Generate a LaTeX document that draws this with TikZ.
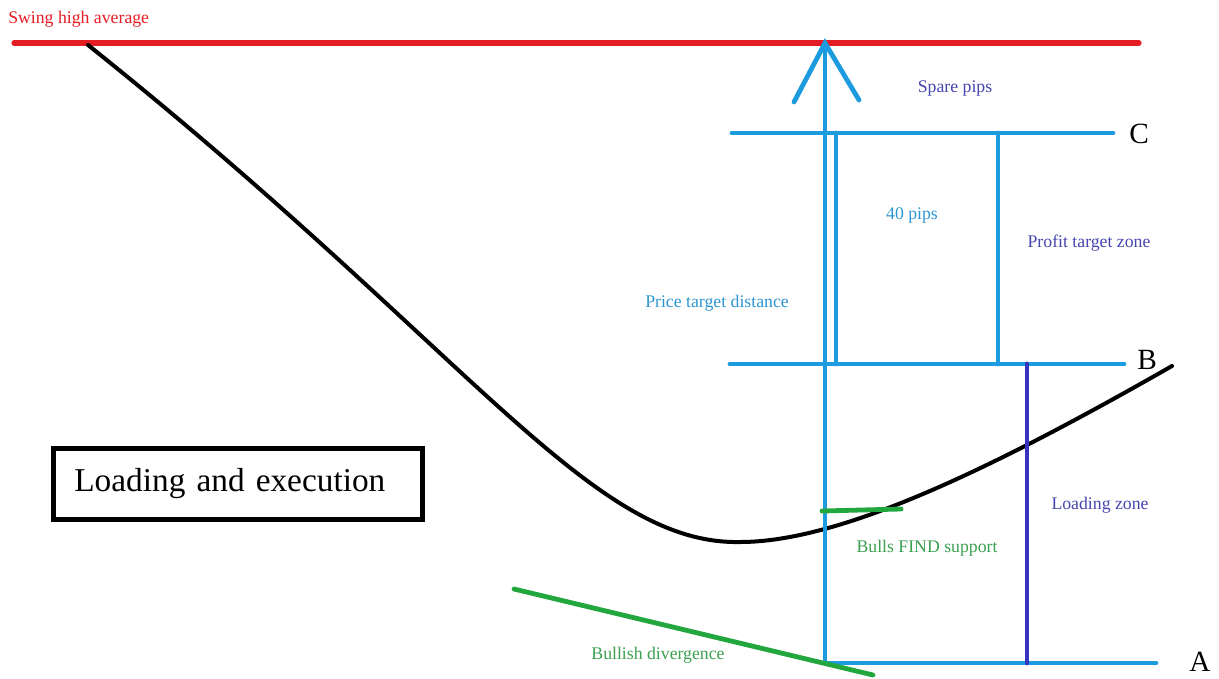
\documentclass[tikz,border=0pt]{standalone}
\usepackage{fontspec}
\setmainfont{Liberation Serif}
\definecolor{redl}{RGB}{228,28,36}
\definecolor{bluel}{RGB}{28,156,222}
\definecolor{blued}{RGB}{52,52,190}
\definecolor{greenl}{RGB}{34,166,62}
\definecolor{bluetxt}{RGB}{70,70,175}
\definecolor{lbluetxt}{RGB}{45,150,210}
\definecolor{greentxt}{RGB}{60,160,80}
\tikzset{
  redline/.style={draw=redl,line width=3.8pt,line cap=round},
  blueline/.style={draw=bluel,line width=3.6pt,line cap=round},
  dblueline/.style={draw=blued,line width=3.6pt,line cap=round},
  greenline/.style={draw=greenl,line width=3.6pt,line cap=round},
  curveline/.style={draw=black,line width=3pt,line cap=round},
  lbl/.style={inner sep=0pt,font=\fontsize{13.3}{15}\selectfont},
  letter/.style={inner sep=0pt,font=\fontsize{22}{25}\selectfont},
  titlebox/.style={draw=black,line width=3.8pt,inner xsep=15.75pt,inner ysep=0pt,
      text width=245.5pt,align=left,minimum height=53pt,
      font=\fontsize{25}{28}\selectfont},
}
\begin{document}
\begin{tikzpicture}[x=0.75pt,y=-0.75pt]
\useasboundingbox (0,0) rectangle (1219,678);
\fill[white] (0,0) rectangle (1219,678);
% coordinates
\coordinate (rL) at (14,43);
\coordinate (rR) at (1139,43);
\coordinate (apex) at (825,43);
\coordinate (ahL) at (794,102);
\coordinate (ahR) at (859,100);
\coordinate (arBot) at (825,663);
\coordinate (cL) at (732,133);
\coordinate (cR) at (1113,133);
\coordinate (bL) at (730,364);
\coordinate (bR) at (1124,364);
\coordinate (aL) at (825,663);
\coordinate (aR) at (1156,663);
\coordinate (v2t) at (836,133);
\coordinate (v2b) at (836,364);
\coordinate (v3t) at (998,133);
\coordinate (v3b) at (998,364);
\coordinate (v4t) at (1027,364);
\coordinate (v4b) at (1027,663);
\coordinate (gsL) at (822,511);
\coordinate (gsR) at (901,509);
\coordinate (gdL) at (514,589);
\coordinate (gdR) at (873,675);
\coordinate (k0) at (88,45);
\coordinate (k1) at (740,542);
\coordinate (k2) at (1172,366);
% lines
\path[redline] (rL) -- (rR);
\path[curveline] (k0) .. controls (470,350) and (590,545) .. (k1) .. controls (840,542) and (990,470) .. (k2);
\path[blueline] (cL) -- (cR);
\path[blueline] (bL) -- (bR);
\path[blueline] (aL) -- (aR);
\path[blueline] (arBot) -- (apex);
\path[blueline] (ahL) -- (apex) -- (ahR);
\path[blueline] (v2t) -- (v2b);
\path[blueline] (v3t) -- (v3b);
\path[dblueline] (v4t) -- (v4b);
\path[greenline] (gsL) -- (gsR);
\path[greenline] (gdL) -- (gdR);
% box
\node[titlebox] (box) at (238,484) {Loading and execution};
% labels
\node[lbl,text=redl,anchor=west] (swing) at (8,19) {Swing high average};
\node[lbl,text=bluetxt] (spare) at (955,89) {Spare pips};
\node[lbl,text=lbluetxt] (forty) at (912,215) {40 pips};
\node[lbl,text=bluetxt] (profit) at (1089,243) {Profit target zone};
\node[lbl,text=lbluetxt] (price) at (717,303) {Price target distance};
\node[lbl,text=bluetxt] (loadz) at (1100,505) {Loading zone};
\node[lbl,text=greentxt] (bulls) at (927,548) {Bulls FIND support};
\node[lbl,text=greentxt] (bdiv) at (658,655) {Bullish divergence};
\node[letter,anchor=west] (C) at (1129,134) {C};
\node[letter,anchor=west] (B) at (1137,360) {B};
\node[letter,anchor=west] (A) at (1189,662) {A};
\end{tikzpicture}
\end{document}
